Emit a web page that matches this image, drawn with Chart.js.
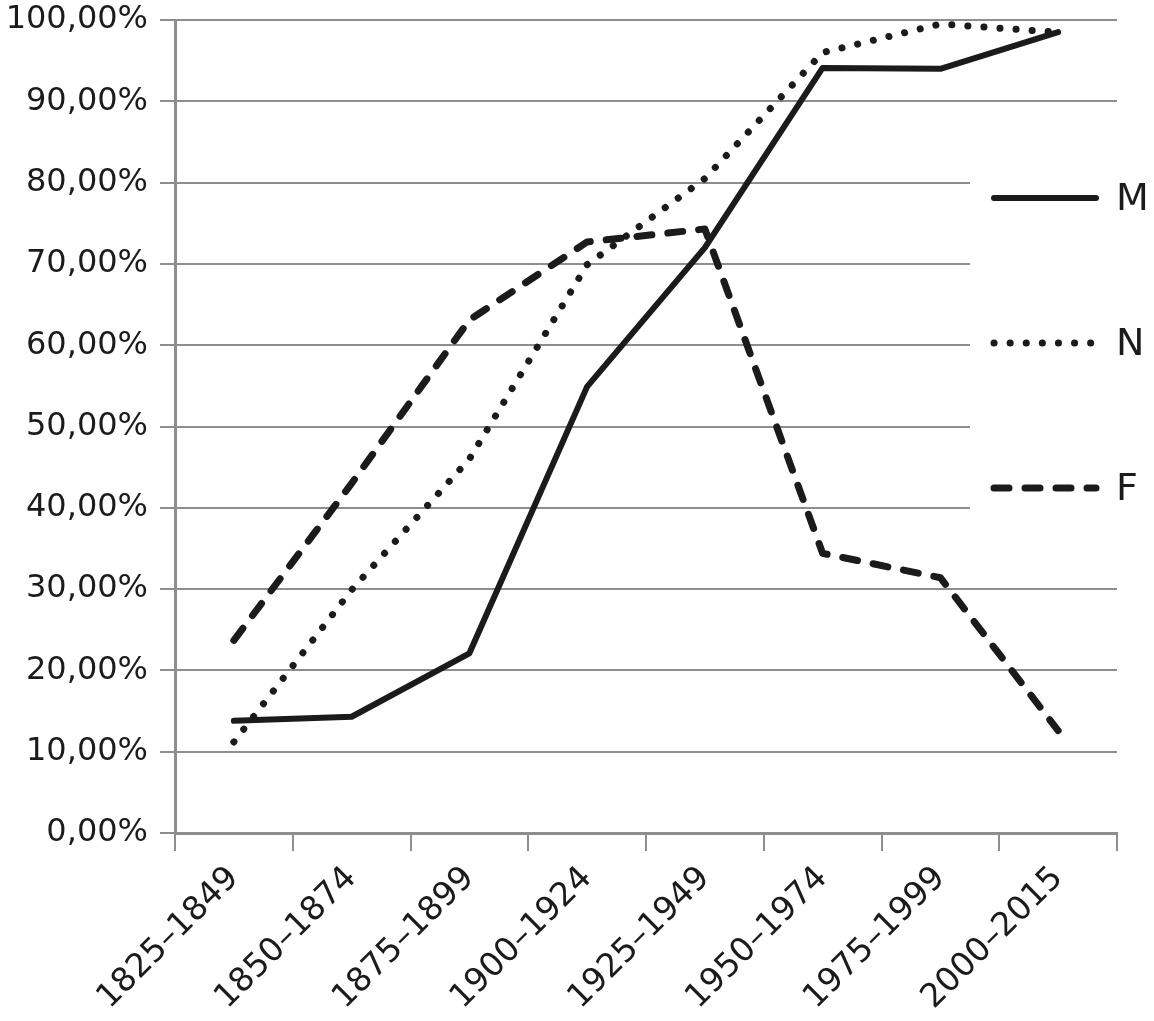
<!DOCTYPE html>
<html lang="es">
<head>
    <meta charset="UTF-8">
    <title>M N F</title>
    <style>
        body { margin: 0; background: #fff; }
        #wrap { width: 1154px; height: 1021px; }
    </style>
</head>
<body>
    <div id="wrap"><canvas id="myChart"></canvas></div>
<script src="https://cdn.jsdelivr.net/npm/chart.js@4.4.0/dist/chart.umd.min.js"></script>
<script>
    // datos
    var periodos = ["1825\u20131849", "1850\u20131874", "1875\u20131899", "1900\u20131924",
                    "1925\u20131949", "1950\u20131974", "1975\u20131999", "2000\u20132015"];
    var serieM = [13.8, 14.3, 22.1, 54.9, 72.0, 94.1, 94.0, 98.5];
    var serieN = [11.2, 29.9, 46.0, 69.9, 80.5, 96.0, 99.5, 98.5];
    var serieF = [23.7, 43.0, 63.1, 72.7, 74.3, 34.4, 31.4, 12.6];
    var etiquetas = ["M", "N", "F"];

    var negro = '#1b1b1b';
    var gris = '#8e8e8e';
    var fuente = 'DejaVu Sans';

    // leyenda dibujada a mano dentro del area del grafico
    var leyenda = {
        id: 'leyenda',
        beforeDatasetsDraw: function(chart) {
            var ctx = chart.ctx;
            ctx.save();
            ctx.fillStyle = '#fff';
            ctx.fillRect(970, 112, 184, 432);
            ctx.restore();
        },
        afterDatasetsDraw: function(chart) {
            var ctx = chart.ctx;
            var ys = [198, 343, 488];
            chart.data.datasets.forEach(function(ds, i) {
                ctx.save();
                ctx.strokeStyle = ds.borderColor;
                ctx.lineWidth = ds.borderWidth;
                ctx.lineCap = 'round';
                ctx.setLineDash(ds.borderDash);
                ctx.beginPath();
                ctx.moveTo(994, ys[i]);
                ctx.lineTo(1096, ys[i]);
                ctx.stroke();
                ctx.setLineDash([]);
                ctx.fillStyle = negro;
                ctx.font = '38px "' + fuente + '"';
                ctx.textBaseline = 'middle';
                ctx.fillText(ds.label, 1116, ys[i] + 2);
                ctx.restore();
            });
        }
    };

    var ctx = document.getElementById('myChart').getContext('2d');
    var myChart = new Chart(ctx, {
        type: 'line',
        data: {
            labels: periodos,
            datasets: [{
                label: etiquetas[0],
                data: serieM,
                borderColor: negro,
                borderWidth: 6,
                borderDash: [],
                borderCapStyle: 'round',
                borderJoinStyle: 'round',
                pointRadius: 0
            }, {
                label: etiquetas[1],
                data: serieN,
                borderColor: negro,
                borderWidth: 7,
                borderDash: [0.1, 16],
                borderCapStyle: 'round',
                borderJoinStyle: 'round',
                pointRadius: 0
            }, {
                label: etiquetas[2],
                data: serieF,
                borderColor: negro,
                borderWidth: 7,
                borderDash: [15, 16],
                borderCapStyle: 'round',
                borderJoinStyle: 'round',
                pointRadius: 0
            }]
        },
        options: {
            responsive: true,
            maintainAspectRatio: false,
            animation: false,
            layout: { padding: { top: 20, right: 37 } },
            plugins: {
                legend: { display: false },
                tooltip: { enabled: false }
            },
            scales: {
                x: {
                    offset: true,
                    grid: {
                        offset: true,
                        drawOnChartArea: false,
                        color: gris,
                        lineWidth: 2,
                        tickLength: 18
                    },
                    border: { color: gris, width: 3 },
                    ticks: {
                        minRotation: 45,
                        maxRotation: 45,
                        padding: 8,
                        color: negro,
                        font: { family: fuente, size: 33 }
                    },
                    afterFit: function(scale) { scale.height = 188; }
                },
                y: {
                    min: 0,
                    max: 100,
                    grid: {
                        color: gris,
                        lineWidth: 2,
                        tickLength: 15
                    },
                    border: { color: gris, width: 3 },
                    ticks: {
                        stepSize: 10,
                        padding: 12,
                        color: negro,
                        font: { family: fuente, size: 32 },
                        callback: function(v) { return v.toFixed(2).replace('.', ',') + '%'; }
                    },
                    afterFit: function(scale) {
                        scale.width = 175;
                        scale.paddingTop = 0;
                        scale.paddingBottom = 0;
                    }
                }
            }
        },
        plugins: [leyenda]
    });
</script>
</body>
</html>
